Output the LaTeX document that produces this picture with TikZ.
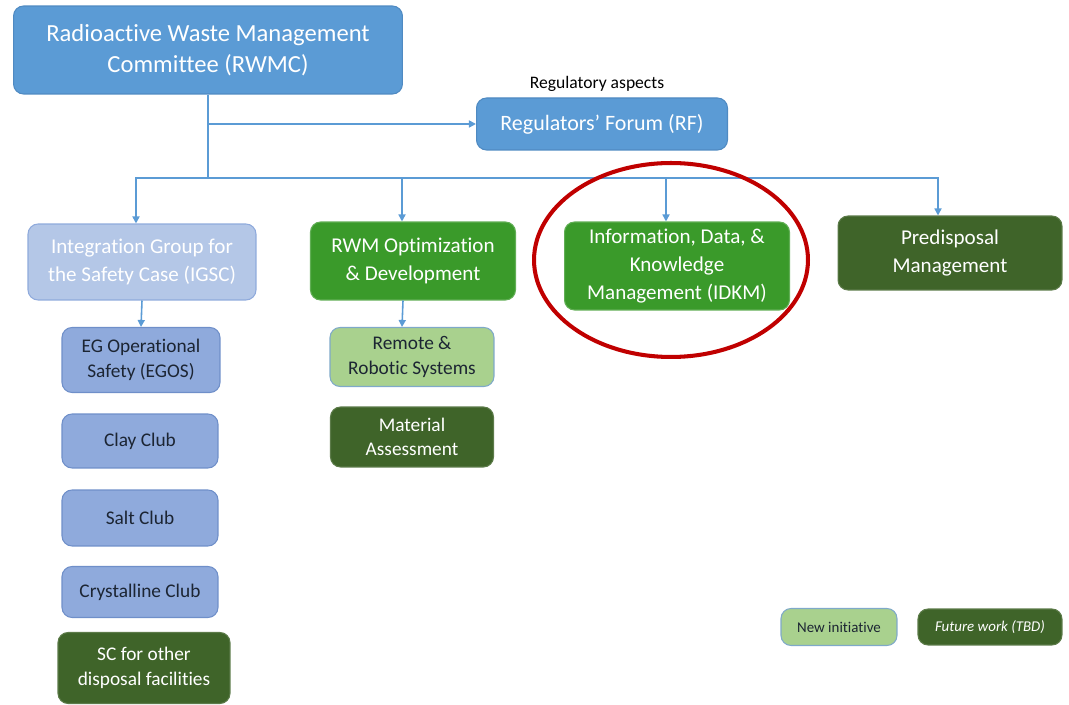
\documentclass[tikz,border=0pt]{standalone}
\usepackage{fontspec}
\setmainfont[Ligatures=NoCommon]{Carlito}
\usetikzlibrary{arrows.meta}
\definecolor{topblue}{HTML}{5B9BD5}
\definecolor{topedge}{HTML}{4F8AC2}
\definecolor{paleblue}{HTML}{B4C7E7}
\definecolor{paleedge}{HTML}{8FAADC}
\definecolor{clubblue}{HTML}{8FAADC}
\definecolor{clubedge}{HTML}{6F8FC9}
\definecolor{midgreen}{HTML}{3A9A2A}
\definecolor{darkgreen}{HTML}{3F6429}
\definecolor{lightgreen}{HTML}{A9D18E}
\definecolor{lightedge}{HTML}{7FA9C9}
\definecolor{inktext}{HTML}{1C2533}
\definecolor{ringred}{HTML}{C00000}
\begin{document}
\begin{tikzpicture}[x=0.02cm,y=-0.02cm,
  box/.style={rounded corners=0.2cm, align=center, inner sep=2pt, line width=0.6pt},
  topbox/.style={box, fill=topblue, draw=topedge, text=white},
  igscbox/.style={box, fill=paleblue, draw=paleedge, text=white},
  clubbox/.style={box, fill=clubblue, draw=clubedge, text=inktext},
  greenbox/.style={box, fill=midgreen, draw=midgreen!80!white, text=white},
  darkbox/.style={box, fill=darkgreen, draw=darkgreen!85!white, text=white},
  newbox/.style={box, fill=lightgreen, draw=lightedge, text=inktext},
  link/.style={draw=topblue, line width=0.9pt},
  arr/.style={link, -{Triangle[length=4pt,width=4pt]}},
  big/.style={font=\fontsize{14}{18}\selectfont},
  mid/.style={font=\fontsize{12}{15.5}\selectfont},
  small/.style={font=\fontsize{11}{14}\selectfont},
  tiny/.style={font=\fontsize{8.5}{10}\selectfont}]
\useasboundingbox (0,0) rectangle (1069,705);

% top level
\node[topbox, big, minimum width=7.78cm, minimum height=1.76cm] (rwmc) at (208,50) {Radioactive Waste Management\\Committee (RWMC)};
\node[topbox, font=\fontsize{12.5}{15}\selectfont, minimum width=5.02cm, minimum height=1.04cm] (rf) at (602,124) {Regulators’ Forum (RF)};
\node[font=\fontsize{10}{12}\selectfont] (reglbl) at (597,84) {Regulatory aspects};

% second level
\node[igscbox, mid, minimum width=4.56cm, minimum height=1.52cm] (igsc) at (142,262) {Integration Group for\\the Safety Case (IGSC)};
\node[greenbox, mid, minimum width=4.1cm, minimum height=1.56cm] (rwm) at (413,261) {RWM Optimization\\\& Development};
\node[greenbox, mid, font=\fontsize{12}{16}\selectfont, minimum width=4.5cm, minimum height=1.76cm] (idkm) at (677,266) {Information, Data, \&\\Knowledge\\Management (IDKM)};
\node[darkbox, mid, minimum width=4.48cm, minimum height=1.48cm] (predisp) at (950,253) {Predisposal\\Management};

% IGSC column
\node[clubbox, small, minimum width=3.16cm, minimum height=1.3cm] (egos) at (141,360) {EG Operational\\Safety (EGOS)};
\node[clubbox, small, minimum width=3.12cm, minimum height=1.08cm] (clay) at (140,441) {Clay Club};
\node[clubbox, small, minimum width=3.12cm, minimum height=1.12cm] (salt) at (140,518) {Salt Club};
\node[clubbox, small, minimum width=3.12cm, minimum height=1.02cm] (cryst) at (140,592) {Crystalline Club};
\node[darkbox, small, minimum width=3.44cm, minimum height=1.42cm] (scother) at (144,668) {SC for other\\disposal facilities};

% RWM column
\node[newbox, small, minimum width=3.28cm, minimum height=1.18cm] (remote) at (412,357) {Remote \&\\Robotic Systems};
\node[darkbox, small, minimum width=3.26cm, minimum height=1.2cm] (material) at (412,437) {Material\\Assessment};

% legend
\node[newbox, tiny, minimum width=2.32cm, minimum height=0.74cm] (lgnew) at (839,627) {New initiative};
\node[darkbox, tiny, minimum width=2.88cm, minimum height=0.72cm] (lgfuture) at (990,627) {\itshape Future work (TBD)};

% connectors
\coordinate (j) at (208,178);
\draw[link] (rwmc.south) -- (j);
\draw[arr] (rwmc.south |- rf.west) -- (rf.west);
\draw[arr] (j) -| ([xshift=-0.12cm]igsc.north);
\draw[arr] (j) -| ([xshift=-0.22cm]rwm.north);
\draw[arr] (j) -| ([xshift=-0.22cm]idkm.north);
\draw[arr] (j) -| ([xshift=-0.24cm]predisp.north);
\draw[arr] (igsc.south) -- (egos.north);
\draw[arr] ([xshift=-0.2cm]rwm.south) -- ([xshift=-0.2cm]remote.north);

% highlight
\draw[ringred, line width=2.3pt] (671,260) ellipse [x radius=2.74cm, y radius=1.94cm];
\end{tikzpicture}
\end{document}
